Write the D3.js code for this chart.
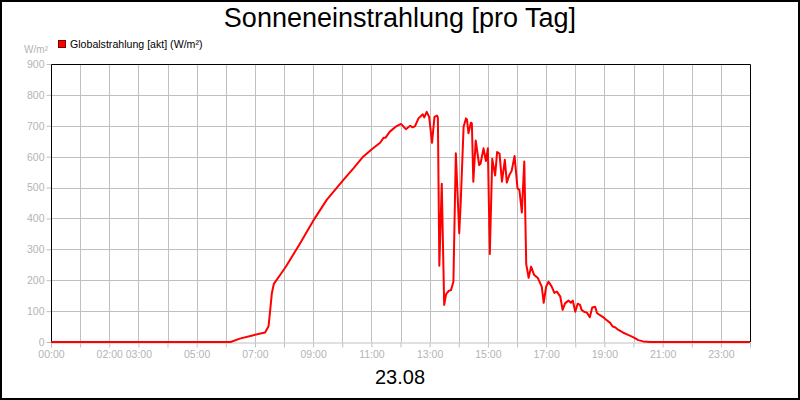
<!DOCTYPE html>
<html><head><meta charset="utf-8">
<script src="https://cdn.jsdelivr.net/npm/d3@7"></script>
<style>body{margin:0;background:#fff}svg{display:block;font-family:"Liberation Sans",Arial,sans-serif}</style>
</head><body><svg id="c" width="800" height="400"></svg>
<script>
const title = "Sonneneinstrahlung [pro Tag]";
const dateLabel = "23.08";
const seriesName = "Globalstrahlung [akt] (W/m²)";
const unitLabel = "W/m²";
const yTicks = [0,100,200,300,400,500,600,700,800,900];
const xTickLabels = ["00:00","02:00","03:00","05:00","07:00","09:00","11:00","13:00","15:00","17:00","19:00","21:00","23:00"];
const times = ["00:00","06:10","06:29","06:57","07:21","07:28","07:31","07:35","07:39","07:52","08:05","08:33","09:00","09:28","10:02","10:23","10:43","11:01","11:18","11:25","11:29","11:38","11:52","12:01","12:11","12:20","12:25","12:30","12:37","12:46","12:49","12:54","12:59","13:05","13:10","13:15","13:17","13:20","13:25","13:30","13:34","13:39","13:44","13:49","13:54","14:01","14:04","14:10","14:15","14:17","14:20","14:25","14:27","14:30","14:35","14:42","14:45","14:51","14:56","15:00","15:04","15:09","15:15","15:19","15:24","15:29","15:35","15:39","15:44","15:49","15:55","16:01","16:05","16:10","16:15","16:19","16:24","16:29","16:35","16:43","16:51","16:55","17:00","17:05","17:11","17:17","17:22","17:29","17:34","17:39","17:46","17:51","17:55","18:00","18:05","18:10","18:13","18:18","18:24","18:30","18:35","18:41","18:45","18:51","18:58","19:03","19:12","19:17","19:22","19:29","19:39","19:49","20:00","20:10","20:20","20:34","24:00"];
const values = [0,0,11,22,31,50,94,158,188,217,247,319,392,460,524,562,600,624,645,661,661,681,699,706,689,700,695,699,724,737,727,745,729,645,729,733,727,247,512,120,155,165,168,195,611,352,449,697,724,720,676,710,708,519,652,573,578,627,586,627,285,593,539,615,610,519,590,516,540,554,602,498,492,419,584,252,208,244,218,207,179,127,179,195,181,159,163,148,104,125,134,127,134,98,124,120,104,98,95,80,112,114,93,87,80,73,62,50,48,39,30,23,15,6,2,0,0];

const toMin = s => { const [h,m] = s.split(":").map(Number); return h*60+m; };
const data = times.map((t,i)=>({t:toMin(t), v:values[i]}));

const svg = d3.select("#c");
const L=51, R=750, T=64, B=342;
const x = d3.scaleLinear().domain([0,1440]).range([L,R]);
const y = d3.scaleLinear().domain([0,900]).range([B,T]);
const grey = "#c0c0c0", labGrey = "#b4b4b4";

svg.append("rect").attr("x",1).attr("y",1).attr("width",798).attr("height",398)
  .attr("fill","#fff").attr("stroke","#000").attr("stroke-width",2);

// grid
const hours = d3.range(1,24).map(h=>h*60);
svg.append("g").selectAll("line").data(hours).join("line")
  .attr("x1",d=>Math.round(x(d))+0.5).attr("x2",d=>Math.round(x(d))+0.5)
  .attr("y1",T).attr("y2",B).attr("stroke",grey);
svg.append("g").selectAll("line").data(yTicks.filter(v=>v>0&&v<900)).join("line")
  .attr("x1",L).attr("x2",R).attr("y1",d=>Math.round(y(d))+0.5).attr("y2",d=>Math.round(y(d))+0.5)
  .attr("stroke",grey);

// x axis
const xAxis = d3.axisBottom(x).tickValues(d3.range(0,25).map(h=>h*60)).tickSize(5)
  .tickFormat(d=>{const s=d3.format("02d")(Math.floor(d/60))+":00"; return xTickLabels.includes(s)?s:"";});
const gx = svg.append("g").attr("transform",`translate(0,${B+0.5})`).call(xAxis);
gx.select(".domain").attr("stroke",grey);
gx.selectAll(".tick line").attr("stroke",grey);
gx.selectAll(".tick text").attr("fill",labGrey).attr("font-size","10.5px").attr("font-family","Liberation Sans, Arial").attr("dy","0.71em").attr("y",8);

// y axis
const yAxis = d3.axisLeft(y).tickValues(yTicks).tickSize(5).tickFormat(d3.format("d"));
const gy = svg.append("g").attr("transform",`translate(${L+0.5},0)`).call(yAxis);
gy.select(".domain").remove();
gy.selectAll(".tick line").attr("stroke",grey);
gy.selectAll(".tick text").attr("fill",labGrey).attr("font-size","10.5px").attr("font-family","Liberation Sans, Arial").attr("x",-7);

// frame top/left/right
svg.append("path").attr("d",`M${L+0.5},${B}V${T+0.5}H${R+0.5}V${B}`).attr("fill","none").attr("stroke","#000");

// data line
svg.append("path").datum(data)
  .attr("d", d3.line().x(d=>x(d.t)).y(d=>y(d.v)))
  .attr("fill","none").attr("stroke","#ff0000").attr("stroke-width",2).attr("stroke-linejoin","round");

// texts
svg.append("text").attr("x",400).attr("y",27).attr("text-anchor","middle").attr("font-size","27px").attr("fill","#000").text(title);
svg.append("text").attr("x",400).attr("y",384).attr("text-anchor","middle").attr("font-size","20px").attr("fill","#000").text(dateLabel);
svg.append("text").attr("x",48).attr("y",53).attr("text-anchor","end").attr("font-size","10px").attr("fill",labGrey).text(unitLabel);
svg.append("rect").attr("x",58.5).attr("y",40.5).attr("width",7).attr("height",7).attr("fill","#ff0000").attr("stroke","#800000");
svg.append("text").attr("x",70).attr("y",48).attr("font-size","10.6px").attr("fill","#000").text(seriesName);
</script></body></html>
